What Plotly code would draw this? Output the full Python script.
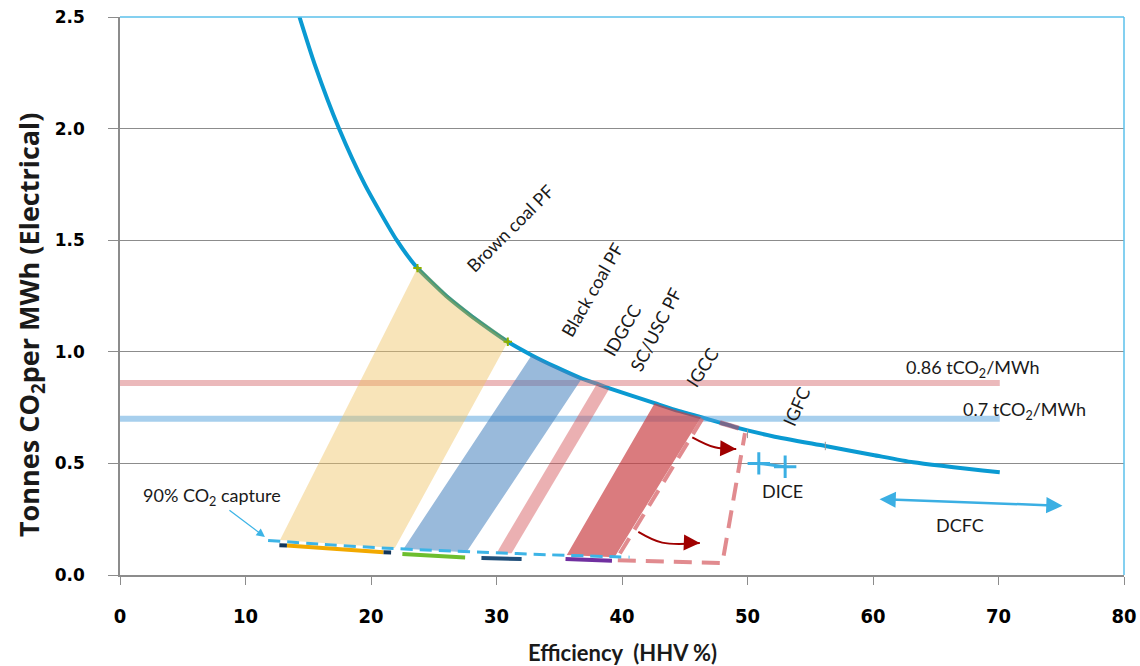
import plotly.graph_objects as go

# ---------------- data ----------------
curve_x = [14.3, 15.5, 17.45, 19.5, 22.05, 23.7, 26.0, 28.0, 30.9, 32.8, 34.8, 36.8, 38.0, 39.0,
           42.6, 44.5, 46.3, 47.8, 49.3, 52.0, 56.2, 60.0, 63.2, 70.1]
curve_y = [2.50, 2.29, 2.00, 1.75, 1.50, 1.375, 1.25, 1.16, 1.045, 0.985, 0.93, 0.88, 0.857, 0.836,
           0.77, 0.735, 0.707, 0.683, 0.658, 0.622, 0.578, 0.538, 0.505, 0.46]

# bands: bottom-left point, curve range for the top, bottom-right point
band_names = ["Brown coal PF", "Black coal PF", "IDGCC", "SC/USC PF"]
band_bottom_left = [(12.75, 0.157), (22.6, 0.118), (30.0, 0.098), (35.6, 0.090)]
band_top_range = [(23.7, 30.9), (32.8, 36.8), (38.0, 39.0), (42.6, 46.3)]
band_bottom_right = [(21.9, 0.121), (27.6, 0.102), (31.2, 0.098), (39.4, 0.080)]
band_colors = ["rgba(240,195,100,0.45)", "rgba(70,130,190,0.55)",
               "rgba(210,80,85,0.45)", "rgba(200,60,65,0.68)"]

# reference emission levels
ref_levels = [0.86, 0.70]
ref_level_end = 70.1
ref_level_colors = ["rgba(215,115,120,0.5)", "rgba(80,160,220,0.5)"]

# 90 % CO2 capture line
capture_x = [11.8, 16.0, 21.3, 28.9, 34.0, 40.6]
capture_y = [0.155, 0.138, 0.120, 0.102, 0.091, 0.080]

# coloured capture segments
seg_x = [[13.3, 21.0], [22.5, 27.5], [28.8, 32.0], [35.5, 39.2]]
seg_y = [[0.132, 0.102], [0.094, 0.078], [0.076, 0.072], [0.072, 0.064]]
seg_colors = ["#F2A900", "#6DBE2E", "#1F4E79", "#7030A0"]
cap_x = [[12.7, 13.3], [21.0, 21.6]]
cap_y = [[0.133, 0.132], [0.102, 0.101]]

# IGCC dashed outline
igcc_x = [46.4, 39.5, 48.0, 49.8]
igcc_y = [0.700, 0.066, 0.054, 0.636]
igcc_top_x = [47.8, 49.3]

# curved arrows
arrow1_x = [45.6, 47.4, 49.1]
arrow1_y = [0.617, 0.572, 0.565]
arrow2_x = [41.3, 43.2, 46.2]
arrow2_y = [0.193, 0.145, 0.143]

# DICE points
dice_x = [50.9, 53.0]
dice_y = [0.500, 0.485]

# DCFC range
dcfc_x = [60.4, 75.1]
dcfc_y = [0.340, 0.310]

# small markers on the curve
tickmark_x = [50.0, 56.2]
tickmark_y = [0.632, 0.578]

x_ticks = [0, 10, 20, 30, 40, 50, 60, 70, 80]
y_ticks = [0.0, 0.5, 1.0, 1.5, 2.0, 2.5]

LABEL_FONT = "Lato, Open Sans, sans-serif"
TXT = "#1a1a1a"

fig = go.Figure()

# main curve
fig.add_trace(go.Scatter(x=curve_x, y=curve_y, mode="lines",
                         line=dict(color="#0A9AD2", width=4, shape="spline", smoothing=0.6),
                         hoverinfo="skip"))

# reference levels
for lv, col in zip(ref_levels, ref_level_colors):
    fig.add_trace(go.Scatter(x=[0, ref_level_end], y=[lv, lv], mode="lines",
                             line=dict(color=col, width=6), hoverinfo="skip"))

# bands
for bl, (t0, t1), br, col in zip(band_bottom_left, band_top_range, band_bottom_right, band_colors):
    tx = [x for x in curve_x if t0 <= x <= t1]
    ty = [y for x, y in zip(curve_x, curve_y) if t0 <= x <= t1]
    px = [bl[0]] + tx + [br[0], bl[0]]
    py = [bl[1]] + ty + [br[1], bl[1]]
    fig.add_trace(go.Scatter(x=px, y=py, mode="lines", fill="toself", fillcolor=col,
                             line=dict(width=0), hoverinfo="skip"))

# overlay on curve along brown coal band
t0, t1 = band_top_range[0]
fig.add_trace(go.Scatter(x=[x for x in curve_x if t0 <= x <= t1],
                         y=[y for x, y in zip(curve_x, curve_y) if t0 <= x <= t1],
                         mode="lines", line=dict(color="rgba(110,150,60,0.55)", width=4),
                         hoverinfo="skip"))
fig.add_trace(go.Scatter(x=[t0, t1], y=[curve_y[curve_x.index(t0)], curve_y[curve_x.index(t1)]],
                         mode="markers", marker=dict(symbol="cross-thin", size=6,
                                                     line=dict(color="#8DB000", width=2)),
                         hoverinfo="skip"))
# overlay segment for IGCC top
fig.add_trace(go.Scatter(x=[x for x in curve_x if igcc_top_x[0] <= x <= igcc_top_x[1]],
                         y=[y for x, y in zip(curve_x, curve_y) if igcc_top_x[0] <= x <= igcc_top_x[1]],
                         mode="lines", line=dict(color="rgba(190,70,90,0.6)", width=5),
                         hoverinfo="skip"))

# small gray marks on curve
fig.add_trace(go.Scatter(x=tickmark_x, y=tickmark_y, mode="markers",
                         marker=dict(symbol="line-ns", size=6, line=dict(color="#999999", width=1)),
                         hoverinfo="skip"))

# IGCC dashed outline
fig.add_trace(go.Scatter(x=igcc_x, y=igcc_y, mode="lines",
                         line=dict(color="rgba(215,100,105,0.75)", width=4, dash="18px,10px"),
                         hoverinfo="skip"))

# 90% capture line
fig.add_trace(go.Scatter(x=capture_x, y=capture_y, mode="lines",
                         line=dict(color="#3DB4E6", width=3, dash="12px,7px", shape="spline"),
                         hoverinfo="skip"))

# capture segments
for sx, sy, col in zip(seg_x, seg_y, seg_colors):
    fig.add_trace(go.Scatter(x=sx, y=sy, mode="lines", line=dict(color=col, width=4),
                             hoverinfo="skip"))
for cx, cy in zip(cap_x, cap_y):
    fig.add_trace(go.Scatter(x=cx, y=cy, mode="lines", line=dict(color="#12365C", width=4),
                             hoverinfo="skip"))

# curved arrows bodies
for ax_, ay_ in [(arrow1_x, arrow1_y), (arrow2_x, arrow2_y)]:
    fig.add_trace(go.Scatter(x=ax_, y=ay_, mode="lines",
                             line=dict(color="#A00000", width=2, shape="spline"),
                             hoverinfo="skip"))

# DICE
fig.add_trace(go.Scatter(x=dice_x, y=dice_y, mode="lines+markers",
                         line=dict(color="#3BAFE3", width=3),
                         marker=dict(symbol="cross-thin", size=16, line=dict(color="#3BAFE3", width=3)),
                         hoverinfo="skip"))

annotations = []
# arrow heads for curved arrows
for ax_, ay_ in [(arrow1_x, arrow1_y), (arrow2_x, arrow2_y)]:
    annotations.append(dict(x=ax_[-1], y=ay_[-1], ax=ax_[-1] - 0.9, ay=ay_[-1] + 0.002,
                            axref="x", ayref="y", text="", showarrow=True,
                            arrowhead=2, arrowsize=1.6, arrowwidth=2, arrowcolor="#A00000"))
# DCFC double arrow
annotations.append(dict(x=dcfc_x[1], y=dcfc_y[1], ax=dcfc_x[0], ay=dcfc_y[0], axref="x", ayref="y",
                        text="", showarrow=True, arrowhead=2, startarrowhead=2, arrowside="end+start",
                        arrowsize=1.3, startarrowsize=1.3, arrowwidth=2.5, arrowcolor="#3BAFE3"))
# 90% capture pointer
annotations.append(dict(x=11.55, y=0.17, ax=-37, ay=-28, text="", showarrow=True,
                        arrowhead=2, arrowsize=1.3, arrowwidth=1.3, arrowcolor="#3DB4E6"))

text_items = [
    ("90% CO<sub>2</sub> capture", 7.33, 0.35, 0),
    ("0.86 tCO<sub>2</sub>/MWh", 68.0, 0.925, 0),
    ("0.7 tCO<sub>2</sub>/MWh", 72.1, 0.737, 0),
    ("DICE", 52.8, 0.376, 0),
    ("DCFC", 66.9, 0.224, 0),
    ("Brown coal PF", 31.1, 1.555, -45),
    ("Black coal PF", 37.6, 1.277, -60),
    ("IDGCC", 40.0, 1.098, -60),
    ("SC/USC PF", 42.7, 1.102, -63),
    ("IGCC", 46.4, 0.932, -57),
    ("IGFC", 53.9, 0.757, -66),
]
for t, x, y, ang in text_items:
    annotations.append(dict(x=x, y=y, text=t, showarrow=False, textangle=ang,
                            xanchor="center", yanchor="middle",
                            font=dict(family=LABEL_FONT, size=18, color=TXT)))

# axis titles
annotations.append(dict(xref="paper", yref="paper", x=0, y=0.448, xshift=-90, textangle=-90,
                        text="Tonnes CO<sub>2</sub>per MWh (Electrical)", showarrow=False,
                        xanchor="center", yanchor="middle",
                        font=dict(family="Open Sans, Lato, sans-serif", size=27, color=TXT,
                                  weight="bold")))
annotations.append(dict(xref="paper", yref="paper", x=0.5, y=0, yshift=-77,
                        text="Efficiency  (HHV %)", showarrow=False,
                        xanchor="center", yanchor="middle",
                        font=dict(family=LABEL_FONT, size=22, color=TXT, weight="bold")))

fig.update_layout(
    width=1140, height=666,
    margin=dict(l=120, r=16, t=17, b=91, autoexpand=False),
    paper_bgcolor="white", plot_bgcolor="white",
    showlegend=False,
    annotations=annotations,
    shapes=[
        dict(type="line", xref="paper", yref="paper", x0=0, x1=1, y0=1, y1=1,
             line=dict(color="#5BC0EB", width=1.5)),
        dict(type="line", xref="paper", yref="paper", x0=1, x1=1, y0=0, y1=1,
             line=dict(color="#5BC0EB", width=1.5)),
    ],
)
fig.update_xaxes(range=[0, 80], tickvals=x_ticks, ticks="outside", ticklen=8, tickwidth=1.3,
                 tickcolor="#8C8C8C", showline=True, linecolor="#8C8C8C", linewidth=1.5,
                 showgrid=False, zeroline=False, ticklabelstandoff=14, automargin=False,
                 tickfont=dict(family="DejaVu Sans Condensed, Roboto Condensed, Roboto, sans-serif",
                               size=20, color="#000", weight="bold"))
fig.update_yaxes(range=[0, 2.5], tickvals=y_ticks, tickformat=".1f", ticks="outside", ticklen=10,
                 tickwidth=1.3, tickcolor="#8C8C8C", showline=True, linecolor="#8C8C8C",
                 linewidth=1.5, showgrid=True, gridcolor="#8C8C8C", gridwidth=1.2,
                 zeroline=False, ticklabelstandoff=20, automargin=False,
                 tickfont=dict(family="DejaVu Sans, Verdana, sans-serif", size=17,
                               color="#000", weight="bold"))

fig.write_html("out.html", config={"displayModeBar": False},
               post_script="document.body.style.margin='0px';document.body.style.overflow='hidden';")
